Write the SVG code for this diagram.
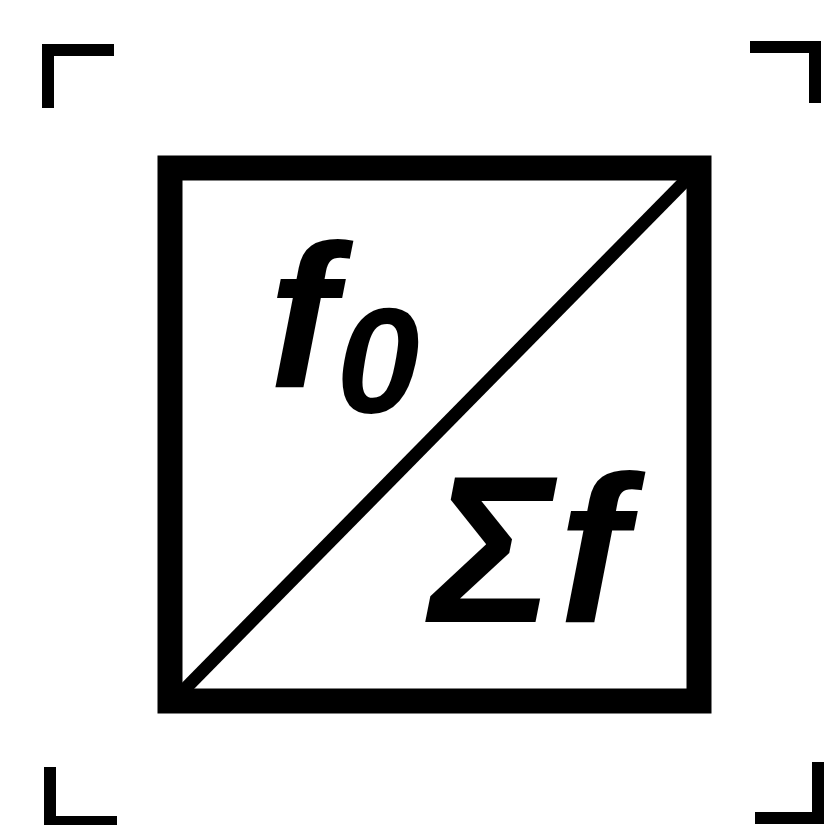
<svg xmlns="http://www.w3.org/2000/svg" width="825" height="825" viewBox="0 0 825 825">
<style>
.mark{fill:none;stroke:#000;stroke-width:12;stroke-linejoin:miter;stroke-linecap:butt}
.lbl{font-family:"Liberation Sans",Arial,sans-serif;font-weight:bold;font-style:italic;fill:#000}
</style>
<rect width="825" height="825" fill="#fff"/>
<g id="corner-marks">
<path class="mark" d="M48,108 V50 H114"/>
<path class="mark" d="M750,47 H815 V103"/>
<path class="mark" d="M50,767 V822 H117"/>
<path class="mark" d="M755,818 H818 V762"/>
</g>
<g id="block">
<rect x="170" y="168" width="529" height="533" fill="none" stroke="#000" stroke-width="25"/>
</g>
<g id="connectors">
<line x1="178" y1="696" x2="692" y2="174" stroke="#000" stroke-width="13"/>
</g>
<g id="label-f0">
<text class="lbl" x="268" y="387" font-size="205">f<tspan font-size="150" dy="26">0</tspan></text>
</g>
<g id="label-sum">
<text class="lbl" x="430" y="622" font-size="210">Σ<tspan dx="4">f</tspan></text>
</g>
</svg>
